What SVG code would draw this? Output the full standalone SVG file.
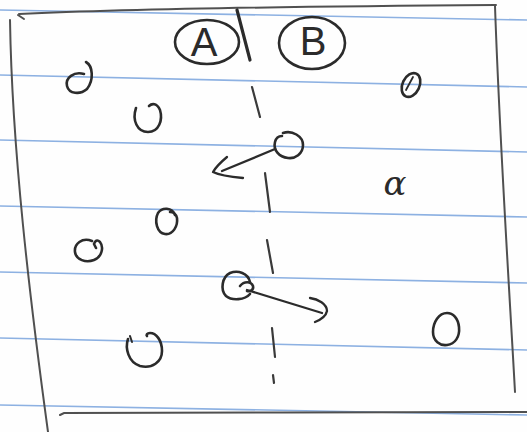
<svg xmlns="http://www.w3.org/2000/svg" width="527" height="432" viewBox="0 0 527 432">
<style>
.rule{stroke:#8db1e2;stroke-width:1.6;fill:none}
.frame{stroke:#505050;stroke-width:2;fill:none;stroke-linecap:round}
.ink{stroke:#2b2b2b;stroke-width:2.6;fill:none;stroke-linecap:round;stroke-linejoin:round}
.dash{stroke:#3a3a3a;stroke-width:2.2;fill:none;stroke-linecap:round}
.lbl{font-family:"Liberation Sans",Arial,sans-serif;fill:#2b2b2b;text-anchor:middle}
</style>
<rect width="527" height="432" fill="#fefefe"/>
<g id="paper-rules">
<line class="rule" x1="0" y1="10" x2="527" y2="20"/>
<line class="rule" x1="0" y1="75" x2="527" y2="87"/>
<line class="rule" x1="0" y1="140" x2="527" y2="152"/>
<line class="rule" x1="0" y1="206" x2="527" y2="217"/>
<line class="rule" x1="0" y1="272" x2="527" y2="283"/>
<line class="rule" x1="0" y1="338" x2="527" y2="350"/>
<line class="rule" x1="0" y1="405" x2="527" y2="415"/>
</g>
<g id="frame">
<path class="frame" d="M18,15 L24,19"/>
<path class="frame" d="M19,14 C150,8 350,6 496,5"/>
<path class="frame" d="M10,20 C12,150 30,300 48,432"/>
<path class="frame" d="M495,6 C500,150 510,300 515,392"/>
<path class="frame" d="M60,415 L64,413 C200,412 400,413 527,412"/>
</g>
<g id="divider">
<path class="ink" style="stroke-width:3.2" d="M237,10 L250,60"/>
<path class="dash" d="M252,87 L260,117"/>
<path class="dash" d="M265,173 L270,212"/>
<path class="dash" d="M267,240 L273,273"/>
<path class="dash" d="M272,328 L275,357"/>
<path class="dash" d="M273,375 L274,383"/>
</g>
<g id="label-A">
<ellipse class="ink" cx="207" cy="42" rx="32" ry="22"/>
<text class="lbl" x="204" y="56" font-size="40">A</text>
</g>
<g id="label-B">
<ellipse class="ink" cx="312" cy="43" rx="33" ry="26"/>
<text class="lbl" x="313" y="55" font-size="40">B</text>
</g>
<g id="node-1"><path class="ink" d="M86,62 C93,66 94,80 87,89 C80,95 69,94 67,86 C65,78 74,71 84,74"/></g>
<g id="node-2"><path class="ink" d="M136,108 C132,120 137,132 148,132 C159,132 163,120 160,110 C157,103 152,103 149,106"/></g>
<g id="node-3"><ellipse class="ink" cx="411" cy="85" rx="8.5" ry="12.5" transform="rotate(25 411 85)"/><path class="ink" style="stroke-width:1.8" d="M406,90 L413,77"/></g>
<g id="node-4"><path class="ink" d="M283,133 C292,130 303,136 303,145 C303,154 295,159 288,158 C279,157 273,150 275,142 C276,138 279,136 282,136"/></g>
<g id="node-5"><text class="lbl" x="395" y="195" font-size="34" font-style="italic" style="font-family:'DejaVu Serif','Liberation Serif',serif">α</text></g>
<g id="node-6"><path class="ink" d="M175,215 C172,207 162,207 158,213 C154,221 157,233 165,234 C173,235 178,226 177,218 C176,214 173,212 170,212"/></g>
<g id="node-7"><path class="ink" d="M92,241 C82,237 74,244 75,252 C76,260 86,263 94,260 C102,257 104,247 100,242 C97,239 95,241 94,244 L96,248"/></g>
<g id="node-8"><path class="ink" d="M250,282 C248,273 238,270 230,273 C222,277 220,290 226,296 C232,301 245,300 250,294"/><path class="ink" d="M240,286 C244,281 251,281 253,286 C254,290 250,292 247,291"/></g>
<g id="node-9"><path class="ink" d="M447,313 C439,313 433,322 433,332 C433,341 440,346 447,345 C455,344 460,337 459,327 C458,318 453,313 447,313 Z"/></g>
<g id="node-10"><path class="ink" d="M128,339 C125,348 128,362 140,366 C152,369 162,362 162,351 C162,340 156,333 150,333 C147,333 146,335 147,336"/><path class="ink" style="stroke-width:2" d="M130,336 L132,342"/></g>
<g id="connectors">
<path class="ink" style="stroke-width:2.3" d="M275,149 L222,171"/>
<path class="ink" style="stroke-width:2.3" d="M227,157 C221,162 216,167 213,172 C221,176 232,177 243,178"/>
<path class="ink" style="stroke-width:2.3" d="M247,290 L322,313"/>
<path class="ink" style="stroke-width:2.3" d="M310,298 C318,299 327,304 327,311 C326,316 320,320 315,322"/>
</g>
</svg>
